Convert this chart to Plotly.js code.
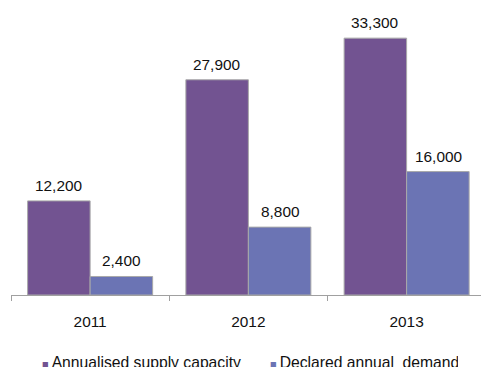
<!DOCTYPE html>
<html><head><meta charset="utf-8">
<script src="https://cdn.plot.ly/plotly-3.0.1.min.js"></script>
<style>html,body{margin:0;padding:0;background:#fff}#c{width:481px;height:367px}</style>
</head><body><div id="c"></div>
<script>
const years = ['2011', '2012', '2013'];
const supply = [12200, 27900, 33300];
const demand = [2400, 8800, 16000];
const seriesNames = ['Annualised supply capacity', 'Declared annual  demand'];
const colors = ['#725391', '#6B74B4'];

const fmt = v => v.toLocaleString('en-US');
const font = {family: 'Liberation Sans, Arial, sans-serif', size: 15.4, color: '#111'};
const legendFont = {family: 'Liberation Sans, Arial, sans-serif', size: 15.7, color: '#111'};

const legendName = (name, col) =>
  '<span style="font-size:11px;color:' + col + '">■ </span>' + name;

const traces = [
  {type: 'bar', x: years, y: supply, name: seriesNames[0], showlegend: false,
   marker: {color: colors[0], line: {color: '#A9A9A9', width: 1}}},
  {type: 'bar', x: years, y: demand, name: seriesNames[1], showlegend: false,
   marker: {color: colors[1], line: {color: '#A9A9A9', width: 1}}},
  {type: 'scatter', mode: 'markers', x: [null], y: [null], name: legendName(seriesNames[0], colors[0]),
   marker: {symbol: 'square', size: 1, color: 'rgba(0,0,0,0)'}},
  {type: 'scatter', mode: 'markers', x: [null], y: [null], name: legendName(seriesNames[1], colors[1]),
   marker: {symbol: 'square', size: 1, color: 'rgba(0,0,0,0)'}}
];

const annotations = [];
[supply, demand].forEach((arr, si) => {
  arr.forEach((v, i) => {
    annotations.push({x: i + (si === 0 ? -0.2 : 0.2), y: v, xref: 'x', yref: 'y',
      text: fmt(v), showarrow: false, yanchor: 'bottom', yshift: 5, font: font});
  });
});

const layout = {
  width: 481, height: 367,
  margin: {l: 11, r: 0, t: 20, b: 72},
  paper_bgcolor: '#fff', plot_bgcolor: '#fff',
  barmode: 'group', bargap: 0.21, bargroupgap: 0,
  showlegend: true,
  legend: {orientation: 'h', xref: 'container', yref: 'container',
           x: 0.004, xanchor: 'left', y: 0.014, yanchor: 'middle',
           font: legendFont, entrywidth: 183, tracegroupgap: 0},
  xaxis: {type: 'category', range: [-0.5, 2.47], tickson: 'boundaries',
          ticks: 'outside', ticklen: 5, tickcolor: '#A0A0A0', tickwidth: 1,
          ticklabelstandoff: 13,
          showline: true, linecolor: '#A0A0A0', linewidth: 1,
          showgrid: false, zeroline: false, tickfont: font, fixedrange: true},
  yaxis: {range: [0, 35650], visible: false, showgrid: false, zeroline: false},
  annotations: annotations
};

Plotly.newPlot('c', traces, layout, {displayModeBar: false, staticPlot: true});
</script></body></html>
